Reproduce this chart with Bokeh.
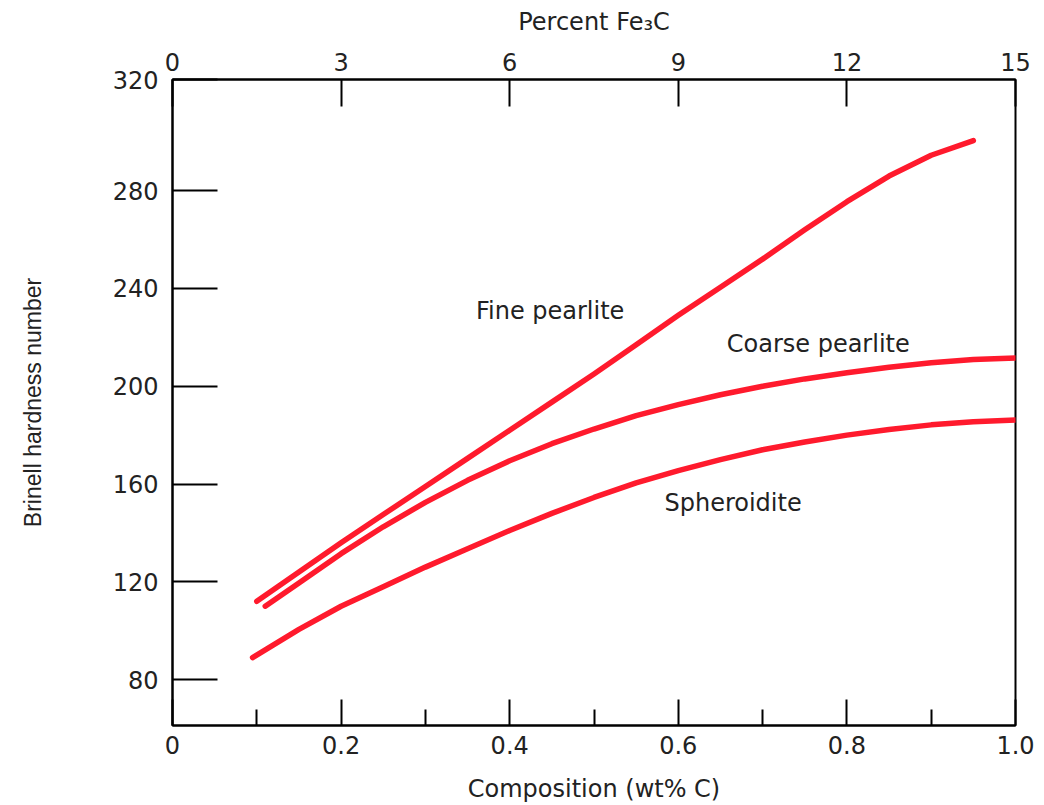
from bokeh.plotting import figure
from bokeh.models import LinearAxis, Range1d, FixedTicker
from bokeh.embed import file_html
from bokeh.resources import INLINE
from bokeh.core.properties import value

# ---------------- data ----------------
composition_ticks = [0, 0.2, 0.4, 0.6, 0.8, 1.0]
composition_labels = ["0", "0.2", "0.4", "0.6", "0.8", "1.0"]
composition_minor = [0.1, 0.3, 0.5, 0.7, 0.9]

fe3c_ticks = [0, 3, 6, 9, 12, 15]
fe3c_labels = ["0", "3", "6", "9", "12", "15"]

Y_MIN, Y_MAX = 61.2, 325.5
hardness_ticks = [80, 120, 160, 200, 240, 280, Y_MAX]
hardness_labels = ["80", "120", "160", "200", "240", "280", "320"]

fine_x = [0.10, 0.15, 0.20, 0.25, 0.30, 0.35, 0.40, 0.45, 0.50, 0.55,
          0.60, 0.65, 0.70, 0.75, 0.80, 0.85, 0.90, 0.95]
fine_y = [112, 124, 136, 147.5, 159, 170.5, 182, 193.5, 205, 217,
          229, 240.5, 252, 264, 275.5, 286, 294.5, 300.5]

coarse_x = [0.11, 0.15, 0.20, 0.25, 0.30, 0.35, 0.40, 0.45, 0.50, 0.55,
            0.60, 0.65, 0.70, 0.75, 0.80, 0.85, 0.90, 0.95, 1.0]
coarse_y = [110, 119.5, 131.5, 142.5, 152.5, 161.5, 169.5, 176.5, 182.5, 188,
            192.5, 196.5, 200, 203, 205.5, 207.8, 209.6, 210.9, 211.6]

sph_x = [0.095, 0.15, 0.20, 0.25, 0.30, 0.35, 0.40, 0.45, 0.50, 0.55,
         0.60, 0.65, 0.70, 0.75, 0.80, 0.85, 0.90, 0.95, 1.0]
sph_y = [89, 100.5, 110, 118, 126, 133.5, 141, 148, 154.5, 160.5,
         165.5, 170, 174, 177.2, 180, 182.3, 184.2, 185.5, 186.2]

curve_names = ["Fine pearlite", "Coarse pearlite", "Spheroidite"]
name_x = [0.448, 0.766, 0.665]
name_y = [230.9, 217.4, 152.2]

# ---------------- style ----------------
RED = "#ff1a2d"
TXT = "#222222"
FONT = "DejaVu Sans"
NARROW = "'Liberation Sans Narrow', 'Liberation Sans', sans-serif"

p = figure(frame_width=843, frame_height=646,
           x_range=(0, 1), y_range=(Y_MIN, Y_MAX),
           x_axis_location=None, y_axis_location=None,
           output_backend="svg", toolbar_location=None,
           min_border_left=172, min_border_right=29,
           min_border_top=79, min_border_bottom=80)
p.xgrid.visible = False
p.ygrid.visible = False
p.outline_line_color = "black"
p.outline_line_width = 2
p.background_fill_color = "white"
p.border_fill_color = "white"
p.extra_x_ranges = {"fe3c": Range1d(0, 15)}


def style(ax, tick_in, minor_in=0):
    ax.axis_line_color = "black"
    ax.axis_line_width = 2
    ax.major_tick_line_color = "black"
    ax.major_tick_line_width = 2
    ax.major_tick_in = tick_in
    ax.major_tick_out = 0
    ax.minor_tick_line_color = "black" if minor_in else None
    ax.minor_tick_line_width = 2
    ax.minor_tick_in = minor_in
    ax.minor_tick_out = 0
    ax.major_label_text_font = FONT
    ax.major_label_text_font_size = "24px"
    ax.major_label_text_color = TXT
    ax.axis_label_text_font = FONT
    ax.axis_label_text_font_size = "24px"
    ax.axis_label_text_font_style = "normal"
    ax.axis_label_text_color = TXT


bottom = LinearAxis(ticker=FixedTicker(ticks=composition_ticks, minor_ticks=composition_minor),
                    axis_label="Composition (wt% C)")
style(bottom, 26, 16)
bottom.major_label_overrides = dict(zip(composition_ticks, composition_labels))
bottom.major_label_standoff = 10
bottom.axis_label_standoff = 18
p.add_layout(bottom, "below")

top = LinearAxis(x_range_name="fe3c", ticker=FixedTicker(ticks=fe3c_ticks),
                 axis_label="Percent Fe\u2083C")
style(top, 27)
top.major_label_overrides = dict(zip(fe3c_ticks, fe3c_labels))
top.major_label_standoff = 9
top.axis_label_standoff = 14
p.add_layout(top, "above")

left = LinearAxis(ticker=FixedTicker(ticks=hardness_ticks), axis_label="Brinell hardness number")
style(left, 45)
left.major_label_overrides = dict(zip(hardness_ticks, hardness_labels))
left.major_label_standoff = 14
left.axis_label_text_font = NARROW
left.axis_label_text_font_size = "23px"
left.axis_label_standoff = 64
p.add_layout(left, "left")

for xs, ys in [(fine_x, fine_y), (coarse_x, coarse_y), (sph_x, sph_y)]:
    p.line(xs, ys, line_color=RED, line_width=5.5, line_cap="round", line_join="round")

p.text(x=name_x, y=name_y, text=curve_names,
       text_font=value(FONT), text_font_size="24px", text_color=TXT,
       text_align="center", text_baseline="middle")

open("out.html", "w").write(file_html(p, INLINE))
